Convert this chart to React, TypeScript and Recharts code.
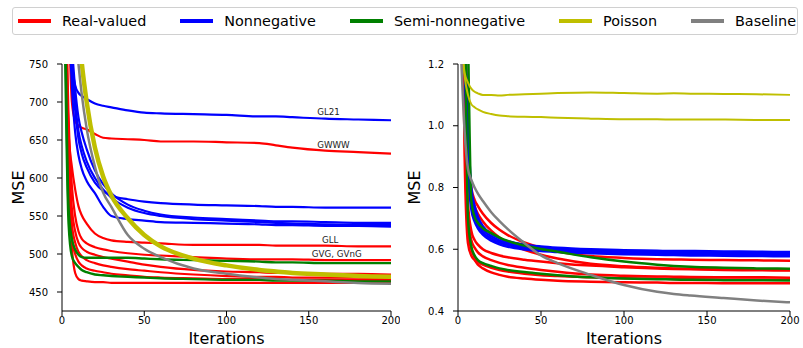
import { LineChart, Line, XAxis, YAxis, ReferenceDot } from "recharts";

// iteration grid shared by every curve
const iters = [0, 2, 4, 6, 8, 10, 12, 15, 20, 25, 30, 40, 50, 60, 80, 100, 120, 130, 140, 160, 180, 200];

// ---- left panel (MSE, real scale) ----
const leftRealGWWW = [1100, 950, 820, 700, 675, 669, 666, 664, 658, 653, 652, 651, 650, 648, 648, 647, 646, 643, 640, 636, 634, 632];
const leftRealGLL = [1100, 900, 660, 615, 585, 563, 551, 540, 527, 521, 518, 516, 515, 514, 512, 512, 512, 511, 511, 511, 510, 510];
const leftRealA = [1100, 850, 680, 590, 550, 530, 520, 514, 509, 506, 504, 501, 499, 498, 496, 494, 493, 493, 493, 492, 492, 492];
const leftRealB = [1100, 820, 640, 560, 530, 515, 508, 503, 499, 496, 494, 490, 486, 483, 479, 477, 476, 475, 475, 474, 474, 473];
const leftRealC = [1100, 800, 620, 540, 515, 503, 497, 492, 488, 485, 483, 480, 478, 476, 473, 471, 470, 470, 469, 469, 469, 468];
const leftRealD = [1100, 780, 600, 520, 500, 490, 485, 481, 478, 476, 474, 472, 470, 469, 468, 467, 467, 466, 466, 466, 466, 466];
const leftRealE = [1100, 800, 660, 510, 475, 467, 465, 464, 463, 463, 462, 462, 462, 462, 462, 462, 462, 462, 462, 462, 462, 462];

const leftNonnegGL21 = [1100, 980, 870, 755, 722, 712, 708, 704, 698, 695, 693, 689, 686, 685, 684, 683, 681, 681, 680, 678, 677, 676];
const leftNonnegB = [1100, 950, 830, 740, 690, 652, 632, 614, 594, 583, 577, 572, 569, 567, 565, 564, 563, 562, 562, 561, 561, 561];
const leftNonnegC = [1100, 960, 850, 775, 718, 680, 660, 638, 610, 592, 580, 565, 557, 552, 548, 546, 544, 543, 543, 542, 541, 541];
const leftNonnegD = [1100, 950, 840, 760, 700, 662, 642, 622, 600, 585, 574, 561, 554, 550, 546, 544, 542, 541, 540, 539, 538, 538];
const leftNonnegE = [1100, 940, 820, 720, 660, 630, 612, 596, 580, 562, 550, 546, 544, 542, 541, 540, 539, 538, 538, 537, 537, 536];

const leftSemiA = [1100, 800, 560, 520, 506, 499, 496, 495, 495, 495, 495, 495, 494, 493, 492, 491, 490, 489, 489, 488, 488, 488];
const leftSemiB = [1100, 750, 540, 497, 488, 483, 479, 476, 473, 472, 471, 470, 469, 468, 467, 466, 466, 465, 465, 465, 464, 464];

const leftPoisson = [1500, 1300, 1150, 1000, 880, 800, 752, 700, 640, 602, 577, 547, 525, 510, 494, 485, 479, 477, 475, 473, 471, 470];
const leftBaseline = [1500, 1250, 1050, 900, 800, 750, 710, 665, 615, 581, 562, 525, 507, 496, 481, 474, 469, 467, 466, 464, 462, 461];

const leftNotes = ["GL21", "GWWW", "GLL", "GVG, GVnG"];
const leftNoteX = [162, 165, 163, 167];
const leftNoteY = [687, 643, 519, 500];

// ---- right panel ----
const rightRealA = [3.0, 2.2, 1.4, 0.95, 0.8, 0.76, 0.74, 0.715, 0.685, 0.663, 0.646, 0.622, 0.605, 0.593, 0.578, 0.572, 0.568, 0.567, 0.566, 0.565, 0.564, 0.563];
const rightRealB = [3.0, 2.2, 1.4, 0.9, 0.78, 0.74, 0.715, 0.69, 0.66, 0.638, 0.622, 0.598, 0.582, 0.57, 0.553, 0.545, 0.54, 0.538, 0.537, 0.535, 0.534, 0.533];
const rightRealC = [3.0, 2.0, 1.2, 0.75, 0.66, 0.63, 0.615, 0.6, 0.588, 0.58, 0.574, 0.566, 0.56, 0.555, 0.547, 0.542, 0.538, 0.536, 0.535, 0.533, 0.532, 0.531];
const rightRealD = [3.0, 2.0, 1.1, 0.7, 0.63, 0.605, 0.59, 0.577, 0.565, 0.556, 0.549, 0.54, 0.533, 0.527, 0.518, 0.514, 0.512, 0.511, 0.51, 0.509, 0.509, 0.508];
const rightRealE = [3.0, 1.9, 1.0, 0.66, 0.6, 0.575, 0.56, 0.55, 0.54, 0.533, 0.528, 0.521, 0.516, 0.513, 0.509, 0.506, 0.505, 0.504, 0.503, 0.502, 0.502, 0.501];
const rightRealF = [3.0, 1.8, 0.9, 0.62, 0.58, 0.565, 0.55, 0.538, 0.525, 0.517, 0.511, 0.505, 0.501, 0.498, 0.495, 0.493, 0.492, 0.491, 0.491, 0.49, 0.49, 0.49];

const rightNonnegA = [2.0, 1.7, 1.35, 1.0, 0.8, 0.74, 0.705, 0.675, 0.65, 0.635, 0.626, 0.615, 0.609, 0.605, 0.6, 0.597, 0.595, 0.594, 0.594, 0.593, 0.592, 0.591];
const rightNonnegB = [2.0, 1.65, 1.3, 0.95, 0.77, 0.72, 0.69, 0.664, 0.642, 0.628, 0.62, 0.61, 0.604, 0.6, 0.596, 0.593, 0.591, 0.59, 0.589, 0.588, 0.587, 0.587];
const rightNonnegC = [2.0, 1.6, 1.25, 0.9, 0.75, 0.705, 0.68, 0.655, 0.635, 0.622, 0.614, 0.605, 0.599, 0.595, 0.591, 0.588, 0.586, 0.585, 0.584, 0.583, 0.583, 0.582];
const rightNonnegD = [2.0, 1.55, 1.2, 0.87, 0.73, 0.69, 0.668, 0.647, 0.628, 0.616, 0.608, 0.599, 0.594, 0.591, 0.587, 0.584, 0.582, 0.581, 0.58, 0.579, 0.578, 0.577];

const rightSemiA = [3.0, 2.5, 2.0, 1.3, 0.76, 0.705, 0.685, 0.668, 0.652, 0.638, 0.627, 0.612, 0.601, 0.592, 0.574, 0.56, 0.55, 0.546, 0.543, 0.54, 0.538, 0.537];
const rightSemiB = [3.0, 2.3, 1.5, 0.7, 0.61, 0.58, 0.565, 0.555, 0.546, 0.538, 0.533, 0.526, 0.521, 0.516, 0.509, 0.505, 0.503, 0.502, 0.501, 0.5, 0.5, 0.499];

const rightPoissonA = [1.5, 1.3, 1.17, 1.14, 1.12, 1.11, 1.105, 1.1, 1.1, 1.098, 1.1, 1.102, 1.104, 1.106, 1.108, 1.106, 1.104, 1.105, 1.104, 1.103, 1.102, 1.1];
const rightPoissonB = [1.5, 1.3, 1.16, 1.1, 1.07, 1.06, 1.053, 1.045, 1.038, 1.033, 1.031, 1.029, 1.028, 1.026, 1.023, 1.021, 1.021, 1.02, 1.02, 1.02, 1.019, 1.019];
const rightBaseline = [1.5, 1.21, 0.98, 0.86, 0.825, 0.8, 0.78, 0.756, 0.72, 0.691, 0.665, 0.62, 0.58, 0.555, 0.517, 0.484, 0.462, 0.455, 0.45, 0.442, 0.434, 0.428];

const xTicks = [0, 50, 100, 150, 200];
const leftYTicks = [450, 500, 550, 600, 650, 700, 750];
const rightYTicks = [0.4, 0.6, 0.8, 1.0, 1.2];

const legendNames = ["Real-valued", "Nonnegative", "Semi-nonnegative", "Poisson", "Baseline"];

const RED = "#ff0000";
const BLUE = "#0000ff";
const GREEN = "#008000";
const YELLOW = "#bfbf00";
const GRAY = "#808080";
const legendColors = [RED, BLUE, GREEN, YELLOW, GRAY];

const FONT = "'DejaVu Sans', sans-serif";

type Series = { key: string; color: string; width: number; values: number[] };

const leftSeries: Series[] = [
    { key: "rGWWW", color: RED, width: 2.2, values: leftRealGWWW },
    { key: "rGLL", color: RED, width: 2.2, values: leftRealGLL },
    { key: "rA", color: RED, width: 2.2, values: leftRealA },
    { key: "rB", color: RED, width: 2.2, values: leftRealB },
    { key: "rC", color: RED, width: 2.2, values: leftRealC },
    { key: "rD", color: RED, width: 2.2, values: leftRealD },
    { key: "rE", color: RED, width: 2.2, values: leftRealE },
    { key: "nGL21", color: BLUE, width: 2.2, values: leftNonnegGL21 },
    { key: "nB", color: BLUE, width: 2.2, values: leftNonnegB },
    { key: "nC", color: BLUE, width: 2.2, values: leftNonnegC },
    { key: "nD", color: BLUE, width: 2.2, values: leftNonnegD },
    { key: "nE", color: BLUE, width: 2.2, values: leftNonnegE },
    { key: "sA", color: GREEN, width: 2.4, values: leftSemiA },
    { key: "sB", color: GREEN, width: 2.4, values: leftSemiB },
    { key: "p", color: YELLOW, width: 4.5, values: leftPoisson },
    { key: "base", color: GRAY, width: 2.5, values: leftBaseline },
];

const rightSeries: Series[] = [
    { key: "rA", color: RED, width: 2.5, values: rightRealA },
    { key: "rB", color: RED, width: 2.5, values: rightRealB },
    { key: "rC", color: RED, width: 2.5, values: rightRealC },
    { key: "rD", color: RED, width: 2.5, values: rightRealD },
    { key: "rE", color: RED, width: 2.5, values: rightRealE },
    { key: "rF", color: RED, width: 2.5, values: rightRealF },
    { key: "nA", color: BLUE, width: 2.5, values: rightNonnegA },
    { key: "nB", color: BLUE, width: 2.5, values: rightNonnegB },
    { key: "nC", color: BLUE, width: 2.5, values: rightNonnegC },
    { key: "nD", color: BLUE, width: 2.5, values: rightNonnegD },
    { key: "sA", color: GREEN, width: 2.5, values: rightSemiA },
    { key: "sB", color: GREEN, width: 2.5, values: rightSemiB },
    { key: "pA", color: YELLOW, width: 2, values: rightPoissonA },
    { key: "pB", color: YELLOW, width: 2, values: rightPoissonB },
    { key: "base", color: GRAY, width: 2.5, values: rightBaseline },
];

function toRows(series: Series[]) {
    return iters.map((it, i) => {
        const row: Record<string, number> = { it };
        series.forEach((s) => {
            row[s.key] = s.values[i];
        });
        return row;
    });
}

const tickStyle = { fontSize: 10, fill: "#000", fontFamily: FONT };

function MseLabel({ viewBox }: any) {
    const cx = viewBox.x + 6;
    const cy = viewBox.y + viewBox.height / 2;
    return (
        <text
            x={cx}
            y={cy}
            transform={`rotate(-90 ${cx} ${cy})`}
            textAnchor="middle"
            dominantBaseline="central"
            fontSize={16}
            fontFamily={FONT}
            fill="#000"
        >
            MSE
        </text>
    );
}

interface PanelProps {
    series: Series[];
    domain: [number, number];
    yTicks: number[];
    fmt: (v: number) => string;
    left: number;
    width: number;
    marginLeft: number;
    marginRight: number;
    notes?: boolean;
}

function Panel({ series, domain, yTicks, fmt, left, width, marginLeft, marginRight, notes }: PanelProps) {
    const data = toRows(series);
    return (
        <div style={{ position: "absolute", left, top: 0 }}>
            <LineChart
                width={width}
                height={348}
                data={data}
                margin={{ top: 64, right: marginRight, bottom: 7, left: marginLeft }}
            >
                <XAxis
                    dataKey="it"
                    type="number"
                    domain={[0, 200]}
                    ticks={xTicks}
                    tick={tickStyle}
                    tickSize={5}
                    tickMargin={1}
                    height={30}
                    stroke="#000"
                    label={{ value: "Iterations", position: "insideBottom", offset: -3, fontSize: 16, fill: "#000", fontFamily: FONT }}
                />
                <XAxis xAxisId="top" orientation="top" type="number" domain={[0, 200]} tick={false} tickLine={false} height={0} stroke="#000" />
                <YAxis
                    type="number"
                    domain={domain}
                    allowDataOverflow
                    ticks={yTicks}
                    tick={tickStyle}
                    tickFormatter={fmt}
                    tickSize={5}
                    tickMargin={9}
                    width={50}
                    stroke="#000"
                    label={<MseLabel />}
                />
                <YAxis yAxisId="right" orientation="right" type="number" domain={domain} tick={false} tickLine={false} width={0} stroke="#000" />
                {series.map((s) => (
                    <Line
                        key={s.key}
                        type="monotone"
                        dataKey={s.key}
                        stroke={s.color}
                        strokeWidth={s.width}
                        dot={false}
                        activeDot={false}
                        isAnimationActive={false}
                    />
                ))}
                {notes &&
                    leftNotes.map((n, i) => (
                        <ReferenceDot
                            key={n}
                            x={leftNoteX[i]}
                            y={leftNoteY[i]}
                            r={0}
                            fill="none"
                            stroke="none"
                            label={{ value: n, position: "center", fontSize: 8.7, fill: "#222", fontFamily: FONT }}
                        />
                    ))}
            </LineChart>
        </div>
    );
}

function LegendBox() {
    return (
        <div
            style={{
                position: "absolute",
                left: 12,
                top: 7,
                width: 786,
                height: 28,
                border: "1px solid #d0d0d0",
                borderRadius: 3,
                display: "flex",
                alignItems: "center",
                gap: 34,
                paddingLeft: 5,
                boxSizing: "border-box",
                fontFamily: FONT,
                fontSize: 14.4,
                color: "#000",
                background: "#fff",
                zIndex: 2,
            }}
        >
            {legendNames.map((name, i) => (
                <div key={name} style={{ display: "flex", alignItems: "center" }}>
                    <span style={{ display: "inline-block", width: 33, height: 4, background: legendColors[i], marginRight: 11 }} />
                    <span>{name}</span>
                </div>
            ))}
        </div>
    );
}

export default function App() {
    return (
        <div style={{ position: "absolute", left: 0, top: 0, width: 803, height: 348, background: "#fff", fontFamily: FONT }}>
            <Panel
                series={leftSeries}
                domain={[425, 750]}
                yTicks={leftYTicks}
                fmt={(v) => String(v)}
                left={0}
                width={400}
                marginLeft={12}
                marginRight={9}
                notes
            />
            <Panel
                series={rightSeries}
                domain={[0.4, 1.2]}
                yTicks={rightYTicks}
                fmt={(v) => v.toFixed(1)}
                left={400}
                width={403}
                marginLeft={8}
                marginRight={13}
            />
            <LegendBox />
        </div>
    );
}
